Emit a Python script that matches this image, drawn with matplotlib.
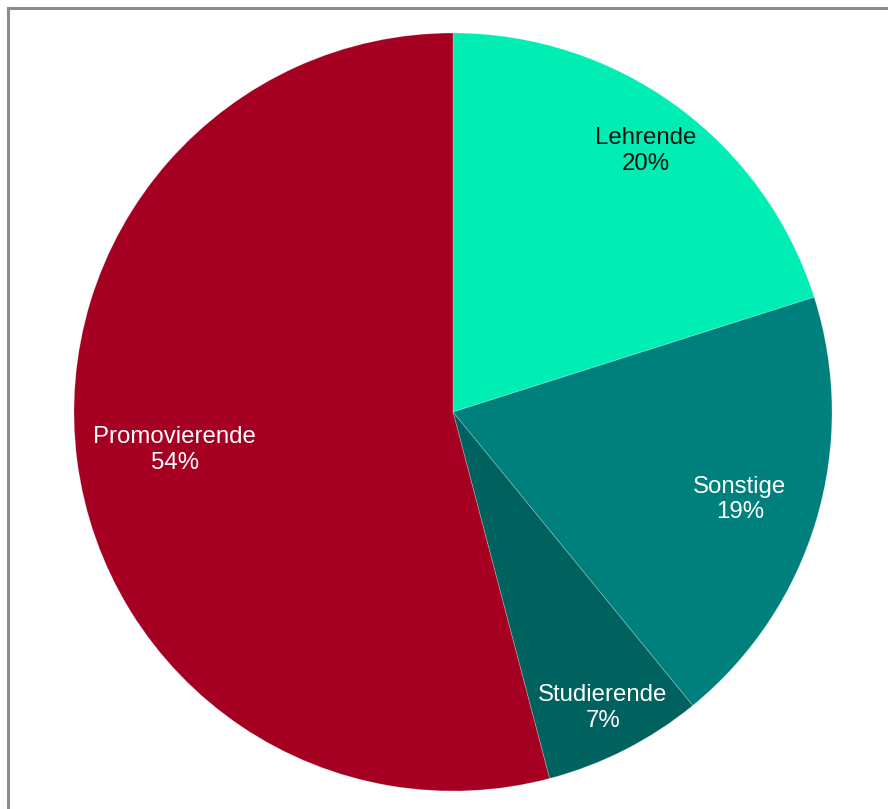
import numpy as np
import matplotlib
matplotlib.use("Agg")
import matplotlib.pyplot as plt
from matplotlib.lines import Line2D

# ---- data (clockwise from 12 o'clock)
labels = ["Lehrende", "Sonstige", "Studierende", "Promovierende"]
shares = [20.1, 19.0, 6.8, 54.1]
colors = ["#00EEB4", "#00807C", "#00625F", "#A50021"]
text_colors = ["#111111", "white", "white", "white"]
label_radius = [0.86, 0.79, 0.87, 0.74]

plt.rcParams["font.family"] = ["Liberation Sans", "DejaVu Sans"]

W, H = 888, 809
fig = plt.figure(figsize=(W / 100, H / 100), dpi=100)
ax = fig.add_axes([0, 0, 1, 1])

wedges, _ = ax.pie(shares, colors=colors, startangle=90, counterclock=False,
                   radius=1, center=(0, 0),
                   wedgeprops=dict(linewidth=0.6, edgecolor=(1, 1, 1, 0.25)))

# ---- labels at the middle of each wedge
for w, lab, val, tc, rr in zip(wedges, labels, shares, text_colors, label_radius):
    mid = np.deg2rad((w.theta1 + w.theta2) / 2)
    ax.text(rr * np.cos(mid), rr * np.sin(mid) - 0.006, "%s\n%d%%" % (lab, round(val)),
            ha="center", va="center", color=tc, fontsize=17.3, linespacing=1.22)

# pie centre at pixel (453, 412), radius 379 px
cx, cy, R = 453, H - 412, 379
ax.set_xlim(-cx / R, (W - cx) / R)
ax.set_ylim(-cy / R, (H - cy) / R)
ax.set_aspect("auto")
ax.axis("off")

# ---- grey frame on the left and top (rest is cut off)
x0 = 7.5 / W
y0 = 1 - 7.5 / H
fig.add_artist(Line2D([x0, x0], [0, y0], transform=fig.transFigure,
                      color="#8c8c8c", lw=2.2))
fig.add_artist(Line2D([x0, 1], [y0, y0], transform=fig.transFigure,
                      color="#8c8c8c", lw=2.2))

fig.savefig("out.png", dpi=100)
